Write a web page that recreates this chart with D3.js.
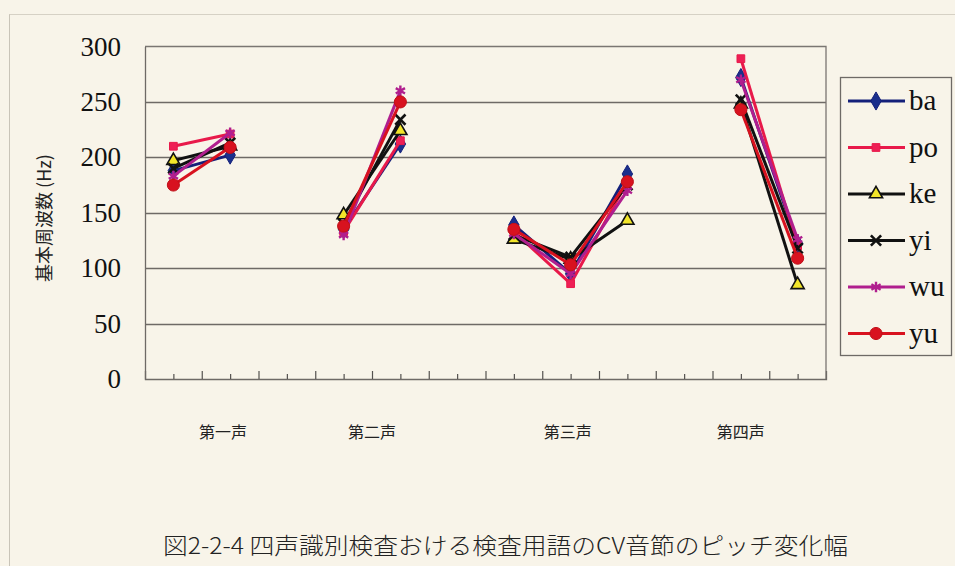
<!DOCTYPE html>
<html>
<head>
<meta charset="utf-8">
<script src="https://cdn.jsdelivr.net/npm/d3@7"></script>
<style>
  html, body { margin: 0; padding: 0; background: #f8f4e9; }
  svg { display: block; }
  .serif { font-family: "Liberation Serif", "Times New Roman", serif; }
  .cjk { font-family: "Noto Sans CJK JP", "Noto Sans CJK SC", sans-serif; }
</style>
</head>
<body>
<svg id="chart" width="955" height="566"></svg>
<script>
// Positions on the x axis (0–24) where each measurement sits
const xSlots = [1, 3, 7, 9, 13, 15, 17, 21, 23];
// Which tone each slot belongs to (lines break between tones)
const toneOfSlot = [0, 0, 1, 1, 2, 2, 2, 3, 3];
const toneLabels = ["第一声", "第二声", "第三声", "第四声"];
const toneLabelX = [2.75, 8.0, 14.9, 21.0];

const seriesNames = ["ba", "po", "ke", "yi", "wu", "yu"];
const ba = [188, 202, 135, 212, 139, 95, 185, 272, 122];
const po = [210, 221, 133, 215, 133, 86, 178, 289, 120];
const ke = [197, 210, 148, 224, 126, 108, 143, 248, 85];
const yi = [190, 213, 140, 234, 130, 110, 175, 252, 118];
const wu = [183, 222, 130, 260, 131, 95, 170, 270, 126];
const yu = [175, 209, 138, 250, 135, 103, 178, 243, 109];
const seriesValues = [ba, po, ke, yi, wu, yu];

const yTicks = [0, 50, 100, 150, 200, 250, 300];
const yTitle = "基本周波数 (Hz)";
const caption = "図2-2-4 四声識別検査おける検査用語のCV音節のピッチ変化幅";

// Visual style per series
const styles = {
  ba: { line: "#14207a", symbol: d3.symbolDiamond, size: 95, fill: "#1a2f8c", stroke: "#14207a", sw: 1 },
  po: { line: "#e8194a", symbol: d3.symbolSquare, size: 60, fill: "#ee1f55", stroke: "#e8194a", sw: 1 },
  ke: { line: "#111111", symbol: d3.symbolTriangle, size: 75, fill: "#f2e52a", stroke: "#111111", sw: 1.6 },
  yi: { line: "#111111", symbol: d3.symbolTimes, size: 70, fill: "none", stroke: "#111111", sw: 2.6 },
  wu: { line: "#b01e8e", symbol: d3.symbolAsterisk, size: 80, fill: "none", stroke: "#b01e8e", sw: 2.4 },
  yu: { line: "#d8121f", symbol: d3.symbolCircle, size: 115, fill: "#d8121f", stroke: "#c01018", sw: 1 }
};

const svg = d3.select("#chart");

// Chart area frame
svg.append("line").attr("x1", 9.5).attr("x2", 9.5).attr("y1", 14).attr("y2", 566)
  .attr("stroke", "#c9c4b8").attr("stroke-width", 1);
svg.append("line").attr("x1", 9.5).attr("x2", 955).attr("y1", 14.5).attr("y2", 14.5)
  .attr("stroke", "#d6d1c5").attr("stroke-width", 1);

const plot = { left: 145, right: 826, top: 46.5, bottom: 379 };
const x = d3.scaleLinear().domain([0, 24]).range([plot.left, plot.right]);
const y = d3.scaleLinear().domain([0, 300]).range([plot.bottom, plot.top]);

// Gridlines
svg.append("g")
  .selectAll("line")
  .data(yTicks.filter(t => t > 0 && t < 300))
  .join("line")
  .attr("x1", plot.left).attr("x2", plot.right)
  .attr("y1", d => Math.round(y(d)) + 0.5).attr("y2", d => Math.round(y(d)) + 0.5)
  .attr("stroke", "#6e6a66").attr("stroke-width", 1.3);

// Plot border (top and right)
svg.append("path")
  .attr("d", `M${plot.left},${plot.top}H${plot.right}V${plot.bottom}`)
  .attr("fill", "none").attr("stroke", "#7a7672").attr("stroke-width", 1.3);

// Y axis
const yAxis = d3.axisLeft(y).tickValues(yTicks).tickSize(0).tickPadding(24);
const gy = svg.append("g").attr("transform", `translate(${plot.left},0)`).call(yAxis)
  .attr("font-family", null).attr("font-size", null);
gy.select(".domain").attr("stroke", "#6e6a66").attr("stroke-width", 1.3);
gy.selectAll("text").attr("class", "serif").attr("font-size", 27).attr("fill", "#111");

// X axis with major ticks every 2 and minor every 1, drawn inside
const majorTicks = d3.range(2, 24, 2);
const minorTicks = d3.range(1, 24, 2);
const xAxisMajor = d3.axisTop(x).tickValues(majorTicks).tickSize(8).tickFormat("");
const xAxisMinor = d3.axisTop(x).tickValues(minorTicks).tickSize(5).tickFormat("");
const gx1 = svg.append("g").attr("transform", `translate(0,${plot.bottom})`).call(xAxisMajor);
const gx2 = svg.append("g").attr("transform", `translate(0,${plot.bottom})`).call(xAxisMinor);
gx2.select(".domain").remove();
gx1.select(".domain").attr("stroke", "#6e6a66").attr("stroke-width", 1.3);
svg.selectAll(".tick line").attr("stroke", "#55524f").attr("stroke-width", 1.2);

// Tone group labels
svg.append("g").selectAll("text")
  .data(toneLabels)
  .join("text")
  .attr("class", "cjk")
  .attr("x", (d, i) => x(toneLabelX[i]))
  .attr("y", 438)
  .attr("text-anchor", "middle")
  .attr("font-size", 16)
  .attr("fill", "#222")
  .text(d => d);

// Y axis title
svg.append("text")
  .attr("class", "cjk")
  .attr("transform", "translate(51,218) rotate(-90)")
  .attr("text-anchor", "middle")
  .attr("font-size", 18)
  .attr("fill", "#222")
  .text(yTitle);

// Series lines, broken between tones
const line = d3.line().x(d => x(d.x)).y(d => y(d.v));
seriesNames.forEach((name, si) => {
  const st = styles[name];
  const pts = xSlots.map((s, i) => ({ x: s, v: seriesValues[si][i], tone: toneOfSlot[i] }));
  const groups = d3.groups(pts, d => d.tone).map(g => g[1]);
  const g = svg.append("g");
  g.selectAll("path.seg")
    .data(groups)
    .join("path")
    .attr("class", "seg")
    .attr("d", line)
    .attr("fill", "none")
    .attr("stroke", st.line)
    .attr("stroke-width", 3)
    .attr("stroke-linejoin", "round");
  g.selectAll("path.mk")
    .data(pts)
    .join("path")
    .attr("class", "mk")
    .attr("transform", d => `translate(${x(d.x)},${y(d.v)})`)
    .attr("d", d3.symbol(st.symbol, st.size))
    .attr("fill", st.fill)
    .attr("stroke", st.stroke)
    .attr("stroke-width", st.sw);
});

// Legend
const legend = svg.append("g");
legend.append("rect")
  .attr("x", 840.5).attr("y", 77.5).attr("width", 111).attr("height", 278)
  .attr("fill", "#f8f4e9").attr("stroke", "#6e6a66").attr("stroke-width", 1.3);
seriesNames.forEach((name, i) => {
  const st = styles[name];
  const ly = 101 + i * 46.5;
  legend.append("line")
    .attr("x1", 848).attr("x2", 905).attr("y1", ly).attr("y2", ly)
    .attr("stroke", st.line).attr("stroke-width", 3);
  legend.append("path")
    .attr("transform", `translate(876,${ly})`)
    .attr("d", d3.symbol(st.symbol, st.size))
    .attr("fill", st.fill).attr("stroke", st.stroke).attr("stroke-width", st.sw);
  legend.append("text")
    .attr("class", "serif")
    .attr("x", 909).attr("y", ly + 9)
    .attr("font-size", 29).attr("fill", "#111")
    .text(name);
});

// Caption
svg.append("text")
  .attr("class", "cjk")
  .attr("x", 163).attr("y", 554)
  .attr("font-size", 23)
  .attr("font-weight", 300)
  .attr("textLength", 685)
  .attr("lengthAdjust", "spacingAndGlyphs")
  .attr("fill", "#222")
  .text(caption);
</script>
</body>
</html>
